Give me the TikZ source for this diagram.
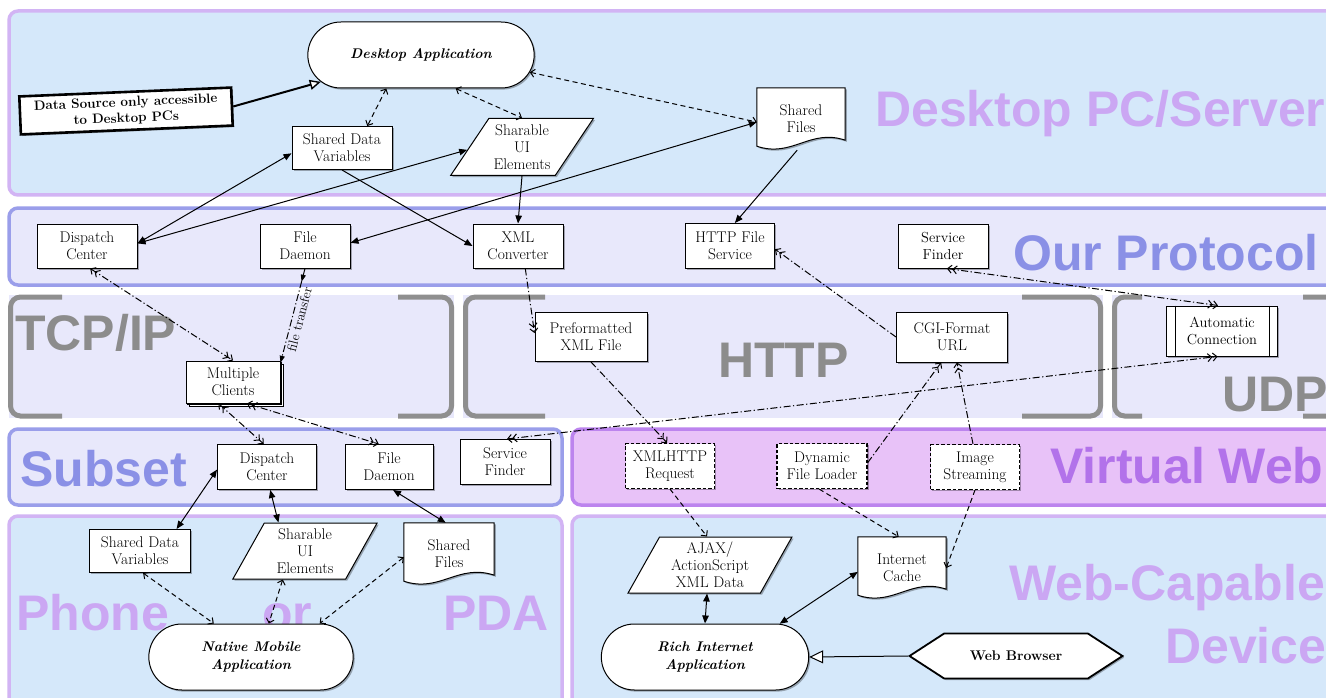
\documentclass[tikz,border=0pt]{standalone}
\usepackage{fontspec}
\newfontfamily\bigsansfam{Liberation Sans}
\usetikzlibrary{arrows.meta,shapes.geometric,shapes.misc,shapes.symbols,shadows,calc,decorations.markings}
\pgfdeclarelayer{back}
\pgfdeclarelayer{mid}
\pgfsetlayers{back,mid,main}
\definecolor{bandblue}{HTML}{D5E8FA}
\definecolor{bandpurp}{HTML}{D2B4F4}
\definecolor{lavfill}{HTML}{E8E8FB}
\definecolor{lavline}{HTML}{9A9EEA}
\definecolor{vwfill}{HTML}{E8C2F8}
\definecolor{vwline}{HTML}{BC84EE}
\definecolor{brgray}{HTML}{8F8F8F}
\definecolor{txpurp}{HTML}{CBA7F3}
\definecolor{txblue}{HTML}{8A90E6}
\definecolor{txvw}{HTML}{B272EA}
\definecolor{txgray}{HTML}{8C8C8C}
\newcommand\mynf{\fontsize{15.5}{17}\selectfont}
\newcommand\mysf{\fontsize{14.5}{16.5}\selectfont}
\newcommand\mypf{\fontsize{14}{17.5}\selectfont\bfseries\itshape}
\newcommand\mydsf{\fontsize{13.5}{16}\selectfont\bfseries}
\newcommand\mybf{\bigsansfam\bfseries\fontsize{50}{50}\selectfont}
\newcommand\myftf{\fontsize{13.5}{15}\selectfont}
\newcommand\docshape[1]{%
\begin{pgfonlayer}{mid}
\path[draw,line width=1pt,fill=white,drop shadow={shadow xshift=1.6pt,shadow yshift=-1.6pt,opacity=0.3,fill=black}]
 (#1.north west) -- (#1.north east) -- ($(#1.south east)+(0,-10)$)
 .. controls ($(#1.south east)!0.4!(#1.south west)+(0,-22)$) and ($(#1.south west)!0.4!(#1.south east)+(0,8)$) ..
 ($(#1.south west)+(0,-4)$) -- cycle;
\end{pgfonlayer}}
\tikzset{
  shd/.style={drop shadow={shadow xshift=1.6pt,shadow yshift=-1.6pt,opacity=0.3,fill=black}},
  box/.style={rectangle,draw,line width=1pt,fill=white,align=center,inner sep=1pt,font=\mynf,shd},
  dbox/.style={box,dash pattern=on 3.5pt off 2pt,line width=1.2pt},
  pill/.style={rounded rectangle,draw,line width=1pt,fill=white,align=center,font=\mypf,shd},
  para/.style={trapezium,draw,line width=1pt,fill=white,align=center,font=\mynf,inner sep=0pt,shd,trapezium stretches=true},
  docn/.style={rectangle,align=center,font=\mynf,inner sep=0pt},
  biglab/.style={font=\mybf,anchor=base west,inner sep=0pt},
  band/.style={rounded corners=9pt,line width=3.5pt},
  brk/.style={draw=brgray,line width=5pt,rounded corners=10pt},
  ln/.style={line width=1pt},
  sarr/.style={ln,-{Triangle[length=8pt,width=6.5pt]}},
  sarr2/.style={ln,{Triangle[length=8pt,width=6.5pt]}-{Triangle[length=8pt,width=6.5pt]}},
  darr/.style={ln,dash pattern=on 5pt off 3.5pt,-{Straight Barb[length=4pt,width=8pt]}},
  darr2/.style={ln,dash pattern=on 5pt off 3.5pt,{Straight Barb[length=4pt,width=8pt]}-{Straight Barb[length=4pt,width=8pt]}},
  ddarr/.style={ln,dash pattern=on 7pt off 2.5pt on 1.2pt off 2.5pt,-{Straight Barb[length=4pt,width=8pt]Straight Barb[length=4pt,width=8pt]}},
  ddarr2/.style={ln,dash pattern=on 7pt off 2.5pt on 1.2pt off 2.5pt,{Straight Barb[length=4pt,width=8pt]Straight Barb[length=4pt,width=8pt]}-{Straight Barb[length=4pt,width=8pt]Straight Barb[length=4pt,width=8pt]}},
}
\begin{document}
\begin{tikzpicture}[x=1pt,y=-1pt]
\useasboundingbox (0,0) rectangle (1326,698);
\begin{pgfonlayer}{back}
\fill[white] (0,0) rectangle (1326,698);
\path[band,fill=bandblue,draw=bandpurp] (9,11) rectangle (1345,195);
\path[band,fill=lavfill,draw=lavline] (9,208) rectangle (1345,285);
\fill[lavfill] (9,295) rectangle (454,418);
\fill[lavfill] (463,295) rectangle (1103,418);
\fill[lavfill] (1112,295) rectangle (1345,418);
\draw[brk] (62,297) -- (10.5,297) -- (10.5,416) -- (62,416);
\draw[brk] (398,297) -- (451.5,297) -- (451.5,416) -- (398,416);
\draw[brk] (545,297) -- (465.5,297) -- (465.5,416) -- (545,416);
\draw[brk] (1022,297) -- (1100.5,297) -- (1100.5,416) -- (1022,416);
\draw[brk] (1142,297) -- (1114.5,297) -- (1114.5,416) -- (1142,416);
\draw[brk] (1303,297) -- (1360,297) -- (1360,416) -- (1303,416);
\path[band,fill=lavfill,draw=lavline] (9,429) rectangle (562,505);
\path[band,fill=vwfill,draw=vwline] (572,429) rectangle (1345,505);
\path[band,fill=bandblue,draw=bandpurp] (9,516) rectangle (562,712);
\path[band,fill=bandblue,draw=bandpurp] (572,516) rectangle (1345,712);
\node[biglab,text=txpurp] (lDesk) at (875,127) {Desktop PC/Server};
\node[biglab,text=txblue] (lProt) at (1013,270) {Our Protocol};
\node[biglab,text=txgray] (lTcp) at (15,350) {TCP/IP};
\node[biglab,text=txgray] (lHttp) at (718,377) {HTTP};
\node[biglab,text=txgray] (lUdp) at (1222,411) {UDP};
\node[biglab,text=txblue] (lSub) at (20,486) {Subset};
\node[biglab,text=txvw] (lVw) at (1050,483) {Virtual Web};
\node[biglab,text=txpurp] (lPh) at (16,630) {Phone};
\node[biglab,text=txpurp] (lOr) at (262,630) {or};
\node[biglab,text=txpurp] (lPda) at (443,630) {PDA};
\node[biglab,text=txpurp] (lWeb) at (1009,600) {Web-Capable};
\node[biglab,text=txpurp] (lDev) at (1165,663) {Device};
\end{pgfonlayer}

% top band
\node[pill,minimum width=233,minimum height=66] (dapp) at (421,55) {Desktop Application};
\node[box,line width=2.6pt,font=\mydsf,rotate=2.4,minimum width=212,minimum height=38,inner sep=2pt] (dsrc) at (126,111) {Data Source only accessible\\to Desktop PCs};
\node[box,minimum width=100,minimum height=43] (tsdv) at (342,148) {Shared Data\\Variables};
\node[para,trapezium left angle=54,trapezium right angle=126,minimum width=143,minimum height=57] (tsui) at (522,147) {Sharable\\UI\\Elements};
\node[docn,minimum width=88,minimum height=62] (tsf) at (801,119) {Shared\\Files};
\docshape{tsf}
% protocol band
\node[box,minimum width=100,minimum height=44] (pdc) at (87,246) {Dispatch\\Center};
\node[box,minimum width=90,minimum height=44] (pfd) at (305,246) {File\\Daemon};
\node[box,minimum width=90,minimum height=44] (xmlc) at (518,246) {XML\\Converter};
\node[box,minimum width=89,minimum height=45] (hfs) at (730,246) {HTTP File\\Service};
\node[box,font=\mysf,minimum width=90,minimum height=44] (psf) at (943,246) {Service\\Finder};
% middle
\node[box,minimum width=112,minimum height=49] (pxml) at (591,337) {Preformatted\\XML File};
\node[box,minimum width=111,minimum height=50] (cgi) at (952,337) {CGI-Format\\URL};
\node[box,font=\mysf,minimum width=111,minimum height=50] (auto) at (1222,331) {Automatic\\Connection};
\draw[ln] ($(auto.north west)+(9,0)$) -- ($(auto.south west)+(9,0)$);
\draw[ln] ($(auto.north east)+(-9,0)$) -- ($(auto.south east)+(-9,0)$);
\node[box,minimum width=94,minimum height=42,double copy shadow={shadow xshift=1.8pt,shadow yshift=-1.8pt}] (mc) at (233,382) {Multiple\\Clients};
% subset / virtual web
\node[box,minimum width=99,minimum height=45] (sdc) at (267,467) {Dispatch\\Center};
\node[box,minimum width=88,minimum height=45] (sfd) at (389,467) {File\\Daemon};
\node[box,minimum width=90,minimum height=45] (ssf) at (505,462) {Service\\Finder};
\node[dbox,minimum width=89,minimum height=45] (xhr) at (670,466) {XMLHTTP\\Request};
\node[dbox,minimum width=90,minimum height=45] (dfl) at (822,466) {Dynamic\\File Loader};
\node[dbox,minimum width=89,minimum height=45] (img) at (975,467) {Image\\Streaming};
% phone
\node[box,minimum width=101,minimum height=43] (psdv) at (140,551) {Shared Data\\Variables};
\node[para,trapezium left angle=64,trapezium right angle=116,minimum width=145,minimum height=56] (psui) at (305,551) {Sharable\\UI\\Elements};
\node[docn,minimum width=90,minimum height=62] (pshf) at (449,554) {Shared\\Files};
\docshape{pshf}
\node[pill,minimum width=211,minimum height=66] (nma) at (251,657) {Native Mobile\\Application};
% web capable
\node[para,trapezium left angle=62,trapezium right angle=118,minimum width=164,minimum height=56] (ajax) at (710,565) {AJAX/\\ActionScript\\XML Data};
\node[docn,minimum width=88,minimum height=62] (icache) at (902,568) {Internet\\Cache};
\docshape{icache}
\node[pill,minimum width=214,minimum height=66] (ria) at (705,657) {Rich Internet\\Application};
\node[signal,signal to=east and west,signal pointer angle=66,draw,line width=1.8pt,fill=white,font=\fontsize{14}{16}\selectfont\bfseries,minimum width=213,minimum height=45,shd] (wb) at (1016,656) {Web Browser};

% connectors
\draw[ln,line width=2pt,-{Triangle[length=11pt,width=10pt,fill=white,line width=1.4pt]}] (dsrc.east) -- (dapp.195);
\draw[darr2] (dapp.224) -- (tsdv.41);
\draw[darr2] (dapp.-44) -- (tsui.north);
\draw[darr2] (dapp.-9) -- (tsf.184);
\draw[sarr2] (pdc.3) -- (tsdv.186);
\draw[sarr2] (pdc.3) -- (tsui.183);
\draw[sarr2] (pfd.4) -- (tsf.184);
\draw[sarr] (tsdv.south) -- (xmlc.west);
\draw[sarr] (tsui.south) -- (xmlc.north);
\draw[sarr] (tsf.263) -- (hfs.78);
\draw[ddarr] (xmlc.-72) -- (pxml.176);
\draw[ddarr] (pxml.south) -- (xhr.97);
\draw[ddarr] (cgi.west) -- (hfs.-4);
\draw[ddarr2] (psf.-80) -- (auto.99);
\draw[ddarr2] (ssf.85) -- (auto.260);
\draw[ddarr2] (pdc.-82) -- (mc.north);
\draw[ln,dash pattern=on 7pt off 2.5pt on 1.2pt off 2.5pt,-{Triangle[length=7pt,width=5pt]},
  postaction={decorate},decoration={markings,mark=at position 0.14 with {\arrow{Triangle[length=7pt,width=5pt]}}}]
  (pfd.south) -- node[font=\myftf,sloped,pos=0.52,below=2pt,inner sep=0pt] (ftl) {file transfer} (mc.22);
\draw[ddarr2] (mc.236) -- (sdc.98);
\draw[ddarr2] (mc.-57) -- (sfd.114);
\draw[ddarr] (dfl.4) -- (cgi.247);
\draw[ddarr] (img.95) -- (cgi.-79);
\draw[sarr2] (sdc.183) -- (psdv.31);
\draw[sarr2] (sdc.-82) -- (psui.133);
\draw[sarr2] (sfd.-80) -- (pshf.96);
\draw[darr2] (psdv.-82) -- (nma.138);
\draw[darr2] (psui.232) -- (nma.62);
\draw[darr2] (pshf.184) -- (nma.26);
\draw[darr] (xhr.south) -- (ajax.96);
\draw[darr] (dfl.263) -- (icache.96);
\draw[darr] (img.south) -- (icache.east);
\draw[sarr2] (ajax.264) -- (ria.north);
\draw[sarr2] (icache.185) -- (ria.24);
\draw[ln,-{Triangle[length=14pt,width=13pt,fill=white]}] (wb.west) -- (ria.east);
\end{tikzpicture}
\end{document}
